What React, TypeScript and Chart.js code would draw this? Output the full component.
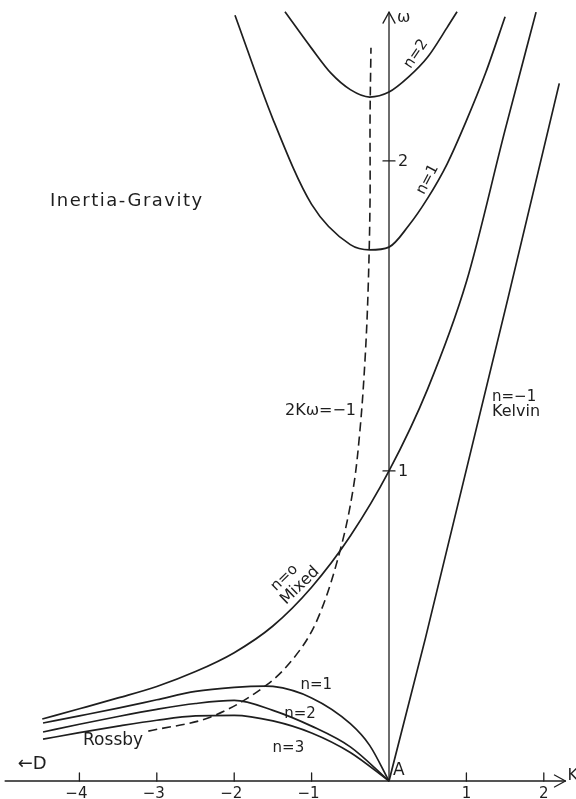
import React, { useEffect, useRef } from "react";
import { Chart, registerables } from "chart.js";

Chart.register(...registerables);

// ---- data (K = wavenumber, W = frequency ω) ----
const kelvinK = [0, 0.47, 1.54, 2.2];
const kelvinW = [0, 0.46, 1.56, 2.25];

const mixedK = [-4.48, -4, -3.5, -3, -2.5, -2, -1.5, -1, -0.5, 0, 0.5, 1, 1.5, 1.9];
const mixedW = [0.2, 0.233, 0.268, 0.305, 0.353, 0.414, 0.5, 0.625, 0.79, 1.0, 1.265, 1.61, 2.1, 2.48];

const ig1K = [-1.99, -1.5, -1.0, -0.5, -0.25, 0, 0.25, 0.5, 0.75, 1.0, 1.25, 1.5];
const ig1W = [2.47, 2.135, 1.86, 1.73, 1.713, 1.722, 1.79, 1.88, 1.99, 2.13, 2.285, 2.465];

const ig2K = [-1.344, -1.0, -0.75, -0.5, -0.25, 0, 0.25, 0.5, 0.75, 0.879];
const ig2W = [2.481, 2.363, 2.283, 2.23, 2.206, 2.222, 2.27, 2.335, 2.43, 2.481];

const rossby1K = [-4.47, -4, -3.5, -3, -2.5, -2, -1.6, -1.5, -1, -0.5, -0.25, 0];
const rossby1W = [0.187, 0.21, 0.235, 0.262, 0.289, 0.302, 0.306, 0.305, 0.268, 0.185, 0.115, 0];

const rossby2K = [-4.47, -4, -3.5, -3, -2.5, -2, -1.5, -1, -0.5, 0];
const rossby2W = [0.158, 0.183, 0.208, 0.231, 0.25, 0.26, 0.228, 0.177, 0.11, 0];

const rossby3K = [-4.47, -4, -3.5, -3, -2.5, -2, -1.5, -1, -0.5, 0];
const rossby3W = [0.135, 0.156, 0.177, 0.196, 0.21, 0.212, 0.194, 0.155, 0.092, 0];

const dashK = [-3.11, -2.31, -1.58, -1.15, -0.89, -0.63, -0.465, -0.375, -0.31, -0.27, -0.245, -0.245, -0.233];
const dashW = [0.161, 0.206, 0.31, 0.423, 0.542, 0.745, 0.939, 1.132, 1.358, 1.584, 1.874, 2.132, 2.365];

const kTicks = [-4, -3, -2, -1, 1, 2];
const kTickLabels = ["\u22124", "\u22123", "\u22122", "\u22121", "1", "2"];
const wTicks = [1, 2];
const wTickLabels = ["1", "2"];

const pts = (k: number[], w: number[]) => k.map((v, i) => ({ x: v, y: w[i] }));

export default function App() {
  const ref = useRef<HTMLCanvasElement>(null);

  useEffect(() => {
    if (!ref.current) return;
    const ink = "#1e1e1e";
    const font = '"DejaVu Sans", sans-serif';

    const decor = {
      id: "decor",
      afterDatasetsDraw(chart: any) {
        const ctx = chart.ctx as CanvasRenderingContext2D;
        const xs = chart.scales.x;
        const ys = chart.scales.y;
        const X = (v: number) => xs.getPixelForValue(v);
        const Y = (v: number) => ys.getPixelForValue(v);
        ctx.save();
        ctx.strokeStyle = ink;
        ctx.fillStyle = ink;
        ctx.lineWidth = 1.3;
        ctx.lineCap = "round";
        ctx.lineJoin = "round";

        // K axis
        const y0 = Y(0);
        const xl = X(-4.96);
        const xr = X(2.28);
        ctx.beginPath();
        ctx.moveTo(xl, y0);
        ctx.lineTo(xr, y0);
        ctx.stroke();
        ctx.beginPath();
        ctx.moveTo(xr - 11, y0 - 6);
        ctx.lineTo(xr, y0);
        ctx.lineTo(xr - 11, y0 + 6);
        ctx.stroke();
        ctx.font = `16px ${font}`;
        ctx.textAlign = "left";
        ctx.textBaseline = "middle";
        ctx.fillText("K", xr + 2, y0 - 5);

        // K ticks
        ctx.textAlign = "center";
        ctx.textBaseline = "middle";
        ctx.font = `15px ${font}`;
        kTicks.forEach((t, i) => {
          const px = X(t);
          ctx.beginPath();
          ctx.moveTo(px, y0);
          ctx.lineTo(px, y0 - 8);
          ctx.stroke();
          const off = t < 0 ? -3 : 0;
          ctx.fillText(kTickLabels[i], px + off, y0 + 13);
        });

        // ω axis
        const x0 = X(0);
        const yt = Y(2.48);
        ctx.beginPath();
        ctx.moveTo(x0, y0);
        ctx.lineTo(x0, yt);
        ctx.stroke();
        ctx.beginPath();
        ctx.moveTo(x0 - 6, yt + 11);
        ctx.lineTo(x0, yt);
        ctx.lineTo(x0 + 6, yt + 11);
        ctx.stroke();
        ctx.font = `16px ${font}`;
        ctx.textAlign = "left";
        ctx.fillText("\u03c9", x0 + 8, yt + 6);

        wTicks.forEach((t, i) => {
          const py = Y(t);
          ctx.beginPath();
          ctx.moveTo(x0 - 6, py);
          ctx.lineTo(x0 + 6, py);
          ctx.stroke();
          ctx.textAlign = "left";
          ctx.fillText(wTickLabels[i], x0 + 9, py + 1);
        });

        // labels
        const label = (txt: string, k: number, w: number, size: number, align: CanvasTextAlign = "center", rot = 0, spacing = 0) => {
          ctx.save();
          ctx.translate(X(k), Y(w));
          ctx.rotate((rot * Math.PI) / 180);
          ctx.font = `${size}px ${font}`;
          (ctx as any).letterSpacing = `${spacing}px`;
          ctx.textAlign = align;
          ctx.textBaseline = "middle";
          ctx.fillText(txt, 0, 0);
          ctx.restore();
        };
        label("Inertia-Gravity", -4.38, 1.871, 18, "left", 0, 1.5);
        label("2K\u03c9=\u22121", -1.344, 1.194, 16, "left");
        label("n=\u22121", 1.331, 1.239, 15, "left");
        label("Kelvin", 1.331, 1.19, 16, "left");
        label("n=o", -1.35, 0.655, 15, "center", -44);
        label("Mixed", -1.15, 0.63, 16, "center", -44);
        label("n=2", 0.35, 2.345, 15, "center", -56);
        label("n=1", 0.5, 1.94, 15, "center", -62);
        label("n=1", -0.94, 0.309, 15, "center");
        label("n=2", -1.15, 0.216, 15, "center");
        label("n=3", -1.3, 0.106, 15, "center");
        label("Rossby", -3.565, 0.132, 17, "center");
        label("A", 0.05, 0.035, 17, "left");
        label("\u2190D", -4.61, 0.055, 18, "center");
        ctx.restore();
      },
    };

    const solid = { borderColor: ink, borderWidth: 1.7, pointRadius: 0, cubicInterpolationMode: "monotone", fill: false, showLine: true };
    const chart = new Chart(ref.current, {
      type: "scatter",
      data: {
        datasets: [
          { ...solid, data: pts(kelvinK, kelvinW), cubicInterpolationMode: "default", tension: 0 },
          { ...solid, data: pts(mixedK, mixedW) },
          { ...solid, data: pts(ig1K, ig1W) },
          { ...solid, data: pts(ig2K, ig2W) },
          { ...solid, data: pts(rossby1K, rossby1W) },
          { ...solid, data: pts(rossby2K, rossby2W) },
          { ...solid, data: pts(rossby3K, rossby3W) },
          {
            borderColor: ink, pointRadius: 0, fill: false, showLine: true, tension: 0.35,
            data: pts(dashK, dashW), borderDash: [9, 5], borderWidth: 1.6,
          },
        ],
      } as any,
      options: {
        animation: false,
        responsive: false,
        maintainAspectRatio: false,
        layout: { padding: 0 },
        plugins: { legend: { display: false }, tooltip: { enabled: false } },
        scales: {
          x: { type: "linear", min: -5.026, max: 2.416, display: false },
          y: { type: "linear", min: -0.058, max: 2.519, display: false },
        },
      },
      plugins: [decor],
    });
    return () => chart.destroy();
  }, []);

  return (
    <div style={{ position: "absolute", left: 0, top: 0, width: 576, height: 799, background: "#fff" }}>
      <canvas ref={ref} width={576} height={799} style={{ display: "block" }} />
    </div>
  );
}
